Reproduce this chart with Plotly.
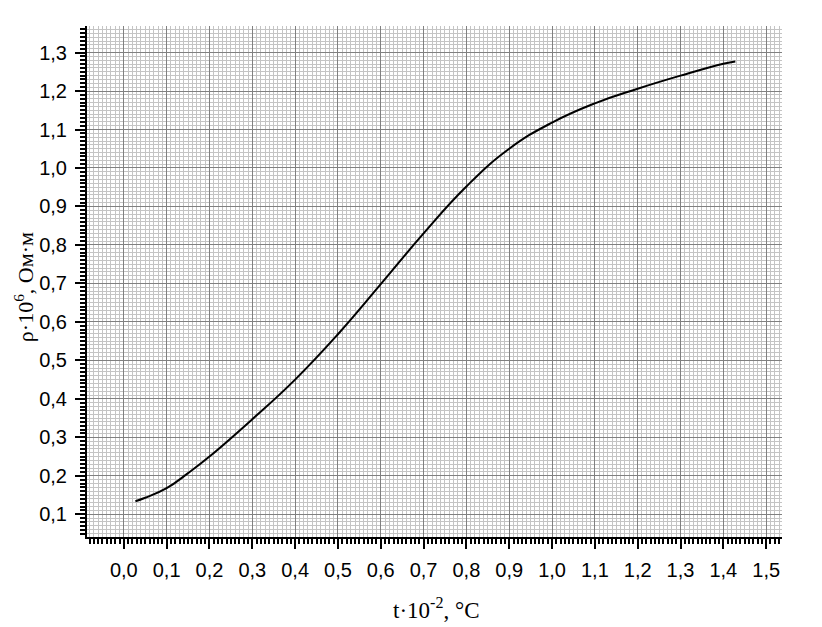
import plotly.graph_objects as go

# Data
t_values = [0.027, 0.05, 0.10, 0.15, 0.20, 0.30, 0.40, 0.50, 0.60, 0.70,
            0.80, 0.90, 1.00, 1.10, 1.20, 1.30, 1.40, 1.428]
rho_values = [0.134, 0.143, 0.168, 0.207, 0.250, 0.347, 0.450, 0.568, 0.698, 0.830,
              0.952, 1.050, 1.118, 1.168, 1.206, 1.240, 1.271, 1.277]

x_tick_vals = [i / 10 for i in range(0, 16)]
y_tick_vals = [i / 10 for i in range(1, 14)]

fig = go.Figure()
fig.add_trace(go.Scatter(
    x=t_values, y=rho_values, mode="lines",
    line=dict(color="black", width=2, shape="spline", smoothing=1.3),
    showlegend=False, hoverinfo="skip",
))

tick_font = dict(family="Liberation Sans, Arial, sans-serif", size=20, color="black")

fig.update_layout(
    width=822, height=627,
    margin=dict(l=87, r=40, t=26, b=90),
    paper_bgcolor="white", plot_bgcolor="white",
    separators=", ",
    xaxis=dict(
        range=[-0.086, 1.537], automargin=False,
        tickvals=x_tick_vals, tickformat=".1f",
        ticks="outside", ticklen=10, tickwidth=2, tickcolor="black",
        showline=True, linecolor="black", linewidth=2,
        showgrid=True, gridcolor="#808080", gridwidth=1,
        zeroline=False, tickfont=tick_font, ticklabelstandoff=4,
        minor=dict(dtick=0.01, tick0=0, ticks="outside", ticklen=5, tickwidth=1.5,
                   tickcolor="black", showgrid=True, gridcolor="#c4c4c4", gridwidth=1),
    ),
    yaxis=dict(
        range=[0.041, 1.369], automargin=False,
        tickvals=y_tick_vals, tickformat=".1f",
        ticks="outside", ticklen=10, tickwidth=2, tickcolor="black",
        showline=True, linecolor="black", linewidth=2,
        showgrid=True, gridcolor="#808080", gridwidth=1,
        zeroline=False, tickfont=tick_font, ticklabelstandoff=4,
        minor=dict(dtick=0.01, tick0=0, ticks="outside", ticklen=5, tickwidth=1.5,
                   tickcolor="black", showgrid=True, gridcolor="#c4c4c4", gridwidth=1),
    ),
    annotations=[
        dict(text="t·10<sup>-2</sup>, °C", xref="paper", yref="paper",
             x=0.503, y=-0.139, xanchor="center", yanchor="middle", showarrow=False,
             font=dict(family="Liberation Serif, Times New Roman, serif", size=23, color="black")),
        dict(text="ρ·10<sup>6</sup>, Ом·м", xref="paper", yref="paper",
             x=-0.0906, y=0.489, xanchor="center", yanchor="middle", showarrow=False,
             textangle=-90,
             font=dict(family="Liberation Serif, Times New Roman, serif", size=22, color="black")),
    ],
)

fig.write_html("out.html", config={"displayModeBar": False},
               post_script="document.body.style.margin='0';")
